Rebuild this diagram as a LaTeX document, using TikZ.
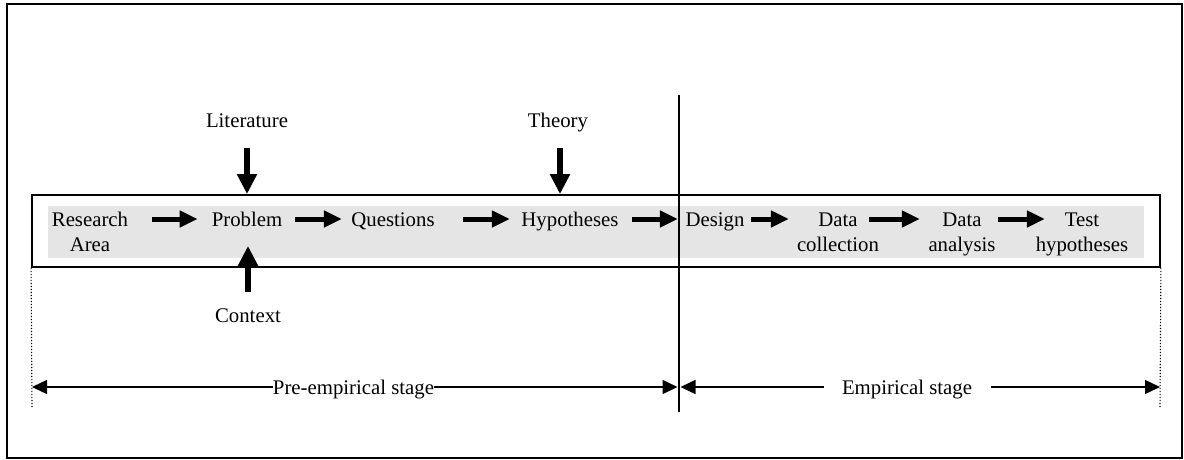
\documentclass[tikz,border=0pt]{standalone}
\usepackage{fontspec}
\setmainfont{Liberation Serif}
\usetikzlibrary{arrows.meta}
\begin{document}
\begin{tikzpicture}[x=1pt,y=-1pt,
 lbl/.style={font=\fontsize{20.8}{25}\selectfont, inner sep=0pt, align=center, anchor=base},
 blk/.style={line width=5pt, -{Triangle[length=18pt,width=16pt]}},
 vblk/.style={line width=6pt, -{Triangle[length=20pt,width=19pt]}},
 stg/.style={line width=1.4pt, -{Triangle[length=15pt,width=14pt]}},
 frame/.style={draw, line width=1.8pt},
 limit/.style={line width=1.1pt, dash pattern=on 1.2pt off 1.8pt},
]
\useasboundingbox (0,0) rectangle (1184,460);
\draw[frame] (7,4) rectangle (1182,458);
\fill[black!10] (48,206) rectangle (1144,258);
\node[frame, minimum width=1128pt, minimum height=72pt, inner sep=0pt] (box) at (596,231) {};

% two-line nodes: base anchor = baseline of last line
\node[lbl] (ra) at (90,251) {Research\\Area};
\node[lbl] (prob) at (247,226) {Problem};
\node[lbl] (quest) at (393,226) {Questions};
\node[lbl] (hyp) at (570,226) {Hypotheses};
\node[lbl] (des) at (715,226) {Design};
\node[lbl] (dcol) at (838,251) {Data\\collection};
\node[lbl] (dana) at (962,251) {Data\\analysis};
\node[lbl] (test) at (1082,251) {Test\\hypotheses};
\node[lbl] (lit) at (247,128) {Literature};
\node[lbl] (theo) at (558,128) {Theory};
\node[lbl] (ctx) at (248,322) {Context};
\node[lbl] (pre) at (353.5,394) {Pre-empirical stage};
\node[lbl] (emp) at (907,394) {Empirical stage};

\coordinate (row) at (0,219);
\coordinate (stgy) at (0,387);
\coordinate (divtop) at (679,95);
\coordinate (divbot) at (679,412);
\coordinate (dl) at (32,408);
\coordinate (dr) at (1160,408);

% row arrows
\draw[blk] ([xshift=24pt]ra.east |- row) -- ([xshift=-14pt]prob.west |- row);
\draw[blk] ([xshift=12.75pt]prob.east |- row) -- ([xshift=-9.4pt]quest.west |- row);
\draw[blk] ([xshift=28.4pt]quest.east |- row) -- ([xshift=-11.5pt]hyp.west |- row);
\draw[blk] ([xshift=13.5pt]hyp.east |- row) -- ([xshift=-7.5pt]des.west |- row);
\draw[blk] ([xshift=6.5pt]des.east |- row) -- ([xshift=-8pt]dcol.west |- row);
\draw[blk] ([xshift=-10pt]dcol.east |- row) -- ([xshift=-8.5pt]dana.west |- row);
\draw[blk] ([xshift=2.5pt]dana.east |- row) -- ([xshift=9.2pt]test.west |- row);

% vertical arrows
\draw[vblk] ([yshift=-20pt]lit.base) -- (lit.base |- box.north);
\draw[vblk] ([xshift=2pt,yshift=-20pt]theo.base) -- ([xshift=2pt]theo.base |- box.north);
\draw[vblk] ([yshift=30pt]ctx.base) -- ([yshift=22pt]ctx.base |- box.south);

% divider and dotted limits
\draw[line width=1.5pt] (divtop) -- (divbot);
\draw[limit] (box.south west) -- (dl);
\draw[limit] (box.south east) -- (dr);

% stage arrows
\draw[stg] (pre.west |- stgy) -- (dl |- stgy);
\draw[stg] (pre.east |- stgy) -- ([xshift=-1.5pt]divbot |- stgy);
\draw[stg] ([xshift=-18pt]emp.west |- stgy) -- ([xshift=1.5pt]divbot |- stgy);
\draw[stg] ([xshift=19pt]emp.east |- stgy) -- (dr |- stgy);
\end{tikzpicture}
\end{document}
